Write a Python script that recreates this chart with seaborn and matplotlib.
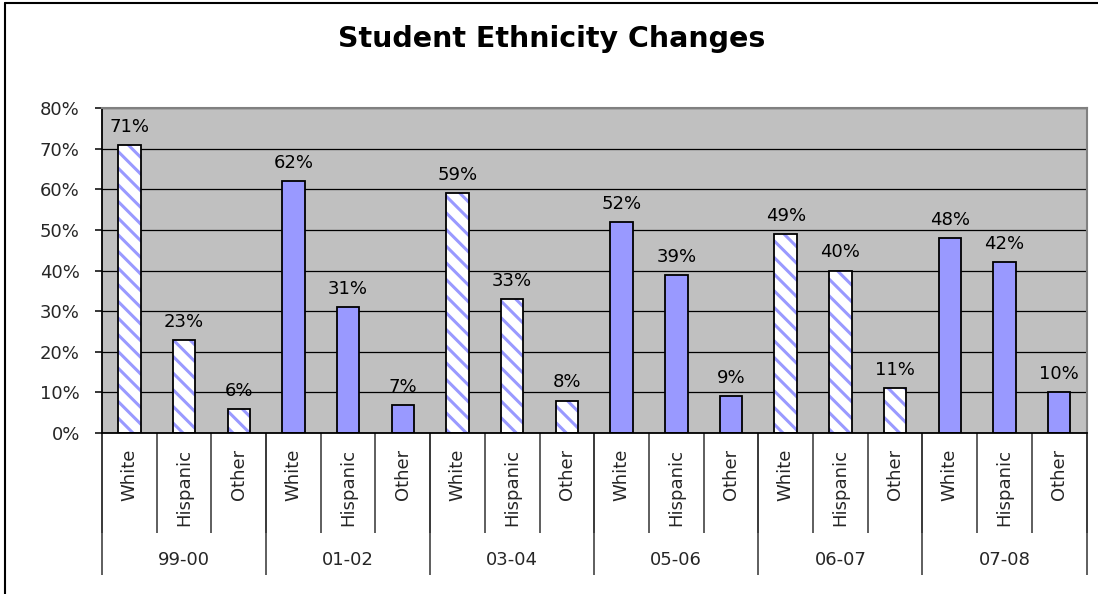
import matplotlib
matplotlib.use("Agg")
import matplotlib.pyplot as plt
import matplotlib.patches as mpatches
from matplotlib.lines import Line2D
import seaborn as sns
import pandas as pd

# ---- data ----
groups = ["99-00", "01-02", "03-04", "05-06", "06-07", "07-08"]
ethnicities = ["White", "Hispanic", "Other"]
white = [71, 62, 59, 52, 49, 48]
hispanic = [23, 31, 33, 39, 40, 42]
other = [6, 7, 8, 9, 11, 10]
hatched_groups = ["99-00", "03-04", "06-07"]
y_ticks = [0, 10, 20, 30, 40, 50, 60, 70, 80]

rows = []
for gi, g in enumerate(groups):
    for eth, series in zip(ethnicities, [white, hispanic, other]):
        rows.append({"key": f"{g}|{eth}", "group": g, "eth": eth, "value": series[gi]})
df = pd.DataFrame(rows)

sns.set_theme(style="white")
plt.rcParams["font.family"] = ["DejaVu Sans"]
plt.rcParams["hatch.linewidth"] = 2.2

BAR = "#9999FF"
fig = plt.figure(figsize=(10.98, 5.94), dpi=100)
ax = fig.add_axes([102 / 1098, 1 - 433 / 594, (1086.5 - 102) / 1098, (433 - 108) / 594])
ax.set_facecolor("#C0C0C0")

sns.barplot(data=df, x="key", y="value", order=list(df["key"]), color=BAR,
            saturation=1, width=0.41, edgecolor="black", linewidth=1.3, ax=ax)

# hatched bars: white + blue stripes with black outline
for patch, g in zip(ax.patches[:len(df)], df["group"]):
    if g in hatched_groups:
        patch.set_facecolor("white")
        patch.set_edgecolor(BAR)
        patch.set_hatch("\\\\")
        patch.set_linewidth(0)
        outline = mpatches.Rectangle(patch.get_xy(), patch.get_width(), patch.get_height(),
                                     fill=False, edgecolor="black", linewidth=1.3, zorder=patch.get_zorder() + 0.1)
        ax.add_patch(outline)

ax.bar_label(ax.containers[0], labels=[f"{v}%" for v in df["value"]],
             padding=6.5, fontsize=13, color="black")

ax.set_ylim(0, 80)
ax.set_xlim(-0.5, len(df) - 0.5)
ax.set_yticks(y_ticks)
ax.set_yticklabels([f"{t}%" for t in y_ticks], fontsize=13)
ax.yaxis.grid(True, color="black", linewidth=0.9)
ax.set_axisbelow(True)
ax.set_xlabel("")
ax.set_ylabel("")

ax.set_xticks(range(len(df)))
ax.set_xticklabels(list(df["eth"]), rotation=90, va="top", ha="center", fontsize=13)
ax.set_xticks([i - 0.5 for i in range(len(df) + 1)], minor=True)
ax.tick_params(axis="x", which="major", length=0, pad=11.5)
ax.tick_params(axis="x", which="minor", length=72, width=1.1, color="#333333", bottom=True)
ax.tick_params(axis="y", which="major", length=5, width=1.1, color="black", left=True, pad=11)

for s in ["left", "bottom"]:
    ax.spines[s].set_color("black")
    ax.spines[s].set_linewidth(1.3)
for s in ["top", "right"]:
    ax.spines[s].set_color("#808080")
    ax.spines[s].set_linewidth(1.5)

# group level axis
sec = ax.secondary_xaxis("bottom")
bounds = [gi * 3 - 0.5 for gi in range(len(groups) + 1)]
centers = [gi * 3 + 1 for gi in range(len(groups))]
sec.set_xticks(bounds)
sec.set_xticklabels([""] * len(bounds))
sec.set_xticks(centers, minor=True)
sec.set_xticklabels(groups, minor=True, fontsize=13)
sec.tick_params(axis="x", which="major", length=102, width=1.1, color="#333333", bottom=True)
sec.tick_params(axis="x", which="minor", length=0, pad=85)
sec.spines["bottom"].set_visible(False)

fig.text(552 / 1098, 1 - 47 / 594, "Student Ethnicity Changes", ha="center", va="baseline",
         fontsize=20.5, fontweight="bold", color="black")

# chart border (left and top edges visible)
bx, by = 5 / 1098, 1 - 3 / 594
fig.add_artist(Line2D([bx, bx], [0, by], transform=fig.transFigure, color="black", linewidth=1.5))
fig.add_artist(Line2D([bx, 1], [by, by], transform=fig.transFigure, color="black", linewidth=1.5))

fig.savefig("out.png", dpi=100)
